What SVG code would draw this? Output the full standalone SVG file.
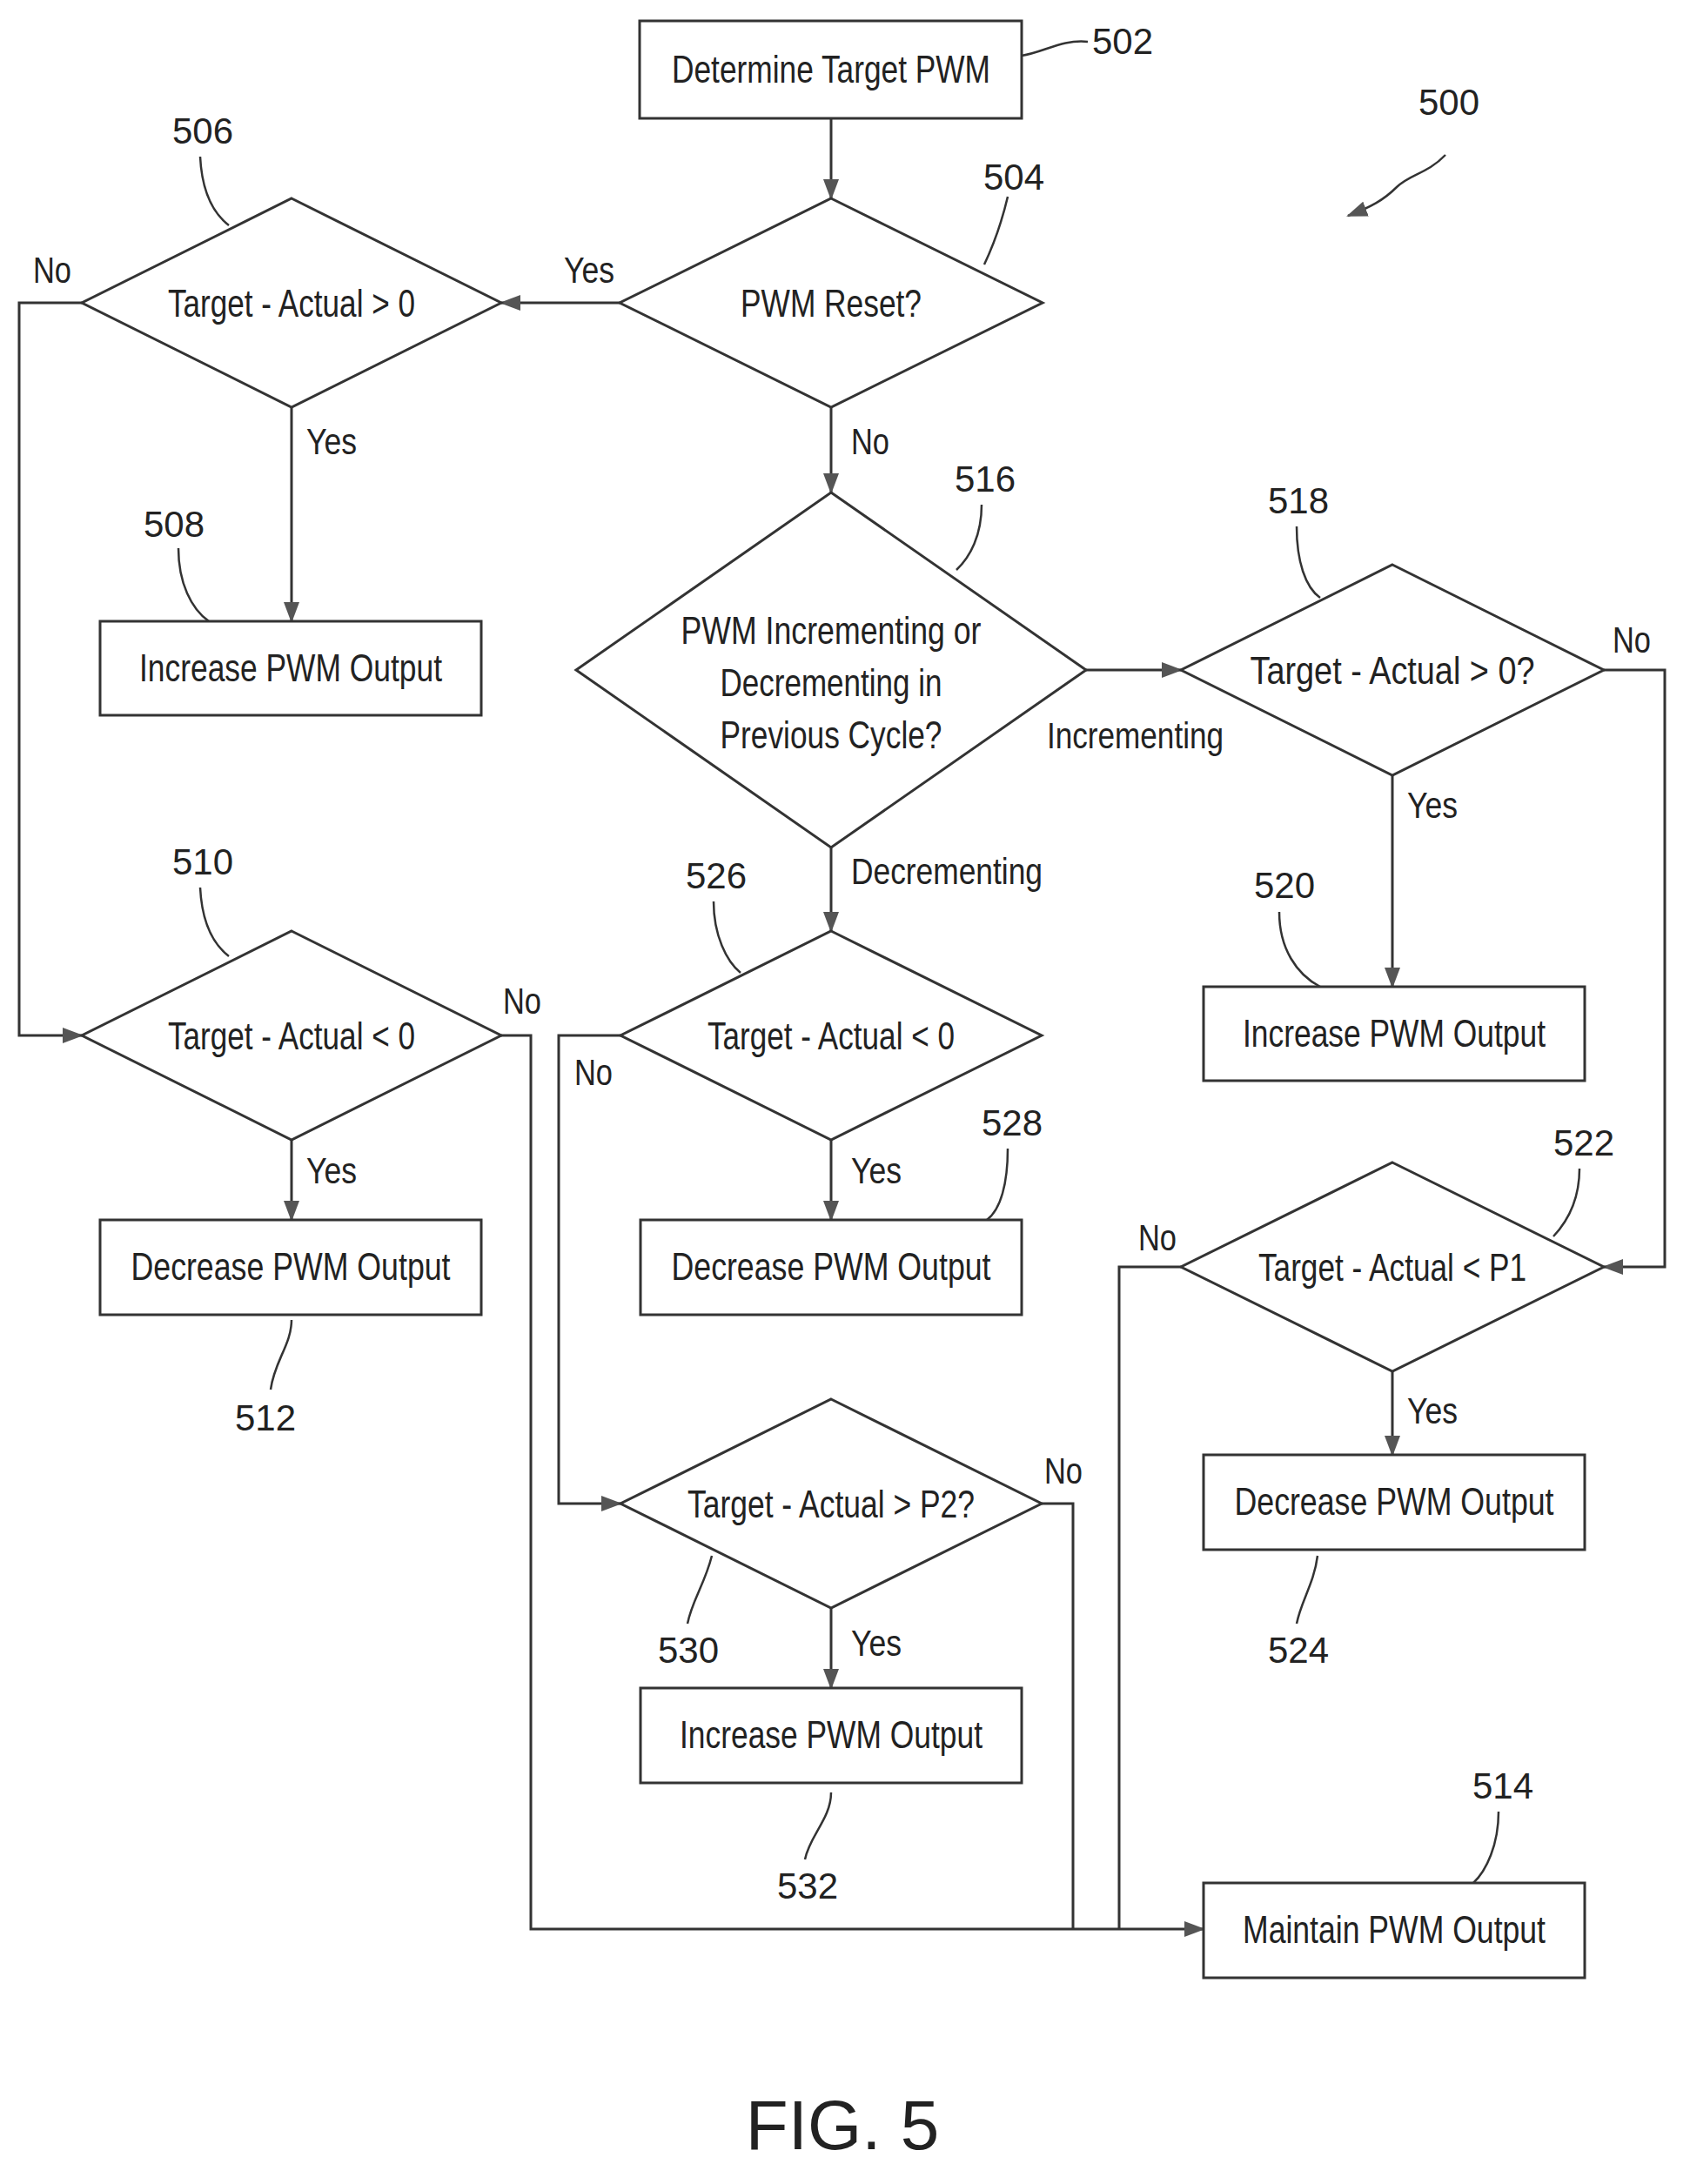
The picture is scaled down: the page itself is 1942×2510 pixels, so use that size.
<svg xmlns="http://www.w3.org/2000/svg" width="1942" height="2510" viewBox="0 0 1942 2510">
<defs>
<marker id="ah2" markerWidth="24" markerHeight="18" refX="22" refY="9" orient="auto" markerUnits="userSpaceOnUse" viewBox="0 0 24 18"><path d="M0,0 L24,9 L0,18 Z" fill="#555"/></marker>
</defs>
<style>
.n{fill:#fff;stroke:#333;stroke-width:3}
.t{font-family:"Liberation Sans Narrow","Liberation Sans",Arial,sans-serif;font-size:44px;fill:#222;text-anchor:middle}
.l{font-family:"Liberation Sans Narrow","Liberation Sans",Arial,sans-serif;font-size:42px;fill:#222}
.c{fill:none;stroke:#333;stroke-width:3}
.a{marker-end:url(#ah2)}
.ld{fill:none;stroke:#333;stroke-width:2.5}
</style>
<rect width="1942" height="2510" fill="#fff"/>
<g id="connectors">
<path class="c a" d="M955,136 V228"/>
<path class="c a" d="M712,348 H576"/>
<path class="c a" d="M94,348 H22 V1190 H94"/>
<path class="c a" d="M335,468 V714"/>
<path class="c a" d="M335,1310 V1402"/>
<path class="c a" d="M576,1190 H610 V2217 H1383"/>
<path class="c a" d="M955,468 V566"/>
<path class="c a" d="M1248,770 H1357"/>
<path class="c a" d="M955,974 V1070"/>
<path class="c a" d="M1843,770 H1913 V1456 H1843"/>
<path class="c a" d="M1600,891 V1134"/>
<path class="c a" d="M1600,1576 V1672"/>
<path class="c" d="M1357,1456 H1286 V2217"/>
<path class="c a" d="M713,1190 H642 V1728 H713"/>
<path class="c a" d="M955,1310 V1402"/>
<path class="c a" d="M955,1848 V1940"/>
<path class="c" d="M1197,1728 H1233 V2217"/>
<text class="l" x="648" y="325" textLength="58" lengthAdjust="spacingAndGlyphs">Yes</text>
<text class="l" x="38" y="325" textLength="44" lengthAdjust="spacingAndGlyphs">No</text>
<text class="l" x="352" y="522" textLength="58" lengthAdjust="spacingAndGlyphs">Yes</text>
<text class="l" x="352" y="1360" textLength="58" lengthAdjust="spacingAndGlyphs">Yes</text>
<text class="l" x="578" y="1165" textLength="44" lengthAdjust="spacingAndGlyphs">No</text>
<text class="l" x="978" y="522" textLength="44" lengthAdjust="spacingAndGlyphs">No</text>
<text class="l" x="1203" y="860" textLength="203" lengthAdjust="spacingAndGlyphs">Incrementing</text>
<text class="l" x="978" y="1016" textLength="220" lengthAdjust="spacingAndGlyphs">Decrementing</text>
<text class="l" x="1853" y="750" textLength="44" lengthAdjust="spacingAndGlyphs">No</text>
<text class="l" x="1617" y="940" textLength="58" lengthAdjust="spacingAndGlyphs">Yes</text>
<text class="l" x="1617" y="1636" textLength="58" lengthAdjust="spacingAndGlyphs">Yes</text>
<text class="l" x="1308" y="1437" textLength="44" lengthAdjust="spacingAndGlyphs">No</text>
<text class="l" x="660" y="1247" textLength="44" lengthAdjust="spacingAndGlyphs">No</text>
<text class="l" x="978" y="1360" textLength="58" lengthAdjust="spacingAndGlyphs">Yes</text>
<text class="l" x="978" y="1903" textLength="58" lengthAdjust="spacingAndGlyphs">Yes</text>
<text class="l" x="1200" y="1705" textLength="44" lengthAdjust="spacingAndGlyphs">No</text>
</g>
<g id="n502"><rect class="n" x="735" y="24" width="439" height="112"/><text class="t" x="955" y="95" textLength="366" lengthAdjust="spacingAndGlyphs">Determine Target PWM</text></g>
<g id="n504"><path class="n" d="M955,228 L1198,348 L955,468 L712,348 Z"/><text class="t" x="955" y="364" textLength="208" lengthAdjust="spacingAndGlyphs">PWM Reset?</text></g>
<g id="n506"><path class="n" d="M335,228 L576,348 L335,468 L94,348 Z"/><text class="t" x="335" y="364" textLength="284" lengthAdjust="spacingAndGlyphs">Target - Actual &gt; 0</text></g>
<g id="n508"><rect class="n" x="115" y="714" width="438" height="108"/><text class="t" x="334" y="783" textLength="348" lengthAdjust="spacingAndGlyphs">Increase PWM Output</text></g>
<g id="n510"><path class="n" d="M335,1070 L576,1190 L335,1310 L94,1190 Z"/><text class="t" x="335" y="1206" textLength="284" lengthAdjust="spacingAndGlyphs">Target - Actual &lt; 0</text></g>
<g id="n512"><rect class="n" x="115" y="1402" width="438" height="109"/><text class="t" x="334" y="1471" textLength="367" lengthAdjust="spacingAndGlyphs">Decrease PWM Output</text></g>
<g id="n516"><path class="n" d="M955,566 L1248,770 L955,974 L662,770 Z"/><text class="t" x="955" y="740" textLength="345" lengthAdjust="spacingAndGlyphs">PWM Incrementing or</text><text class="t" x="955" y="800" textLength="255" lengthAdjust="spacingAndGlyphs">Decrementing in</text><text class="t" x="955" y="860" textLength="255" lengthAdjust="spacingAndGlyphs">Previous Cycle?</text></g>
<g id="n518"><path class="n" d="M1600,649 L1843,770 L1600,891 L1357,770 Z"/><text class="t" x="1600" y="786" textLength="327" lengthAdjust="spacingAndGlyphs">Target - Actual &gt; 0?</text></g>
<g id="n520"><rect class="n" x="1383" y="1134" width="438" height="108"/><text class="t" x="1602" y="1203" textLength="348" lengthAdjust="spacingAndGlyphs">Increase PWM Output</text></g>
<g id="n522"><path class="n" d="M1600,1336 L1843,1456 L1600,1576 L1357,1456 Z"/><text class="t" x="1600" y="1472" textLength="308" lengthAdjust="spacingAndGlyphs">Target - Actual &lt; P1</text></g>
<g id="n524"><rect class="n" x="1383" y="1672" width="438" height="109"/><text class="t" x="1602" y="1741" textLength="367" lengthAdjust="spacingAndGlyphs">Decrease PWM Output</text></g>
<g id="n526"><path class="n" d="M955,1070 L1197,1190 L955,1310 L713,1190 Z"/><text class="t" x="955" y="1206" textLength="284" lengthAdjust="spacingAndGlyphs">Target - Actual &lt; 0</text></g>
<g id="n528"><rect class="n" x="736" y="1402" width="438" height="109"/><text class="t" x="955" y="1471" textLength="367" lengthAdjust="spacingAndGlyphs">Decrease PWM Output</text></g>
<g id="n530"><path class="n" d="M955,1608 L1197,1728 L955,1848 L713,1728 Z"/><text class="t" x="955" y="1744" textLength="330" lengthAdjust="spacingAndGlyphs">Target - Actual &gt; P2?</text></g>
<g id="n532"><rect class="n" x="736" y="1940" width="438" height="109"/><text class="t" x="955" y="2009" textLength="348" lengthAdjust="spacingAndGlyphs">Increase PWM Output</text></g>
<g id="n514"><rect class="n" x="1383" y="2164" width="438" height="109"/><text class="t" x="1602" y="2233" textLength="348" lengthAdjust="spacingAndGlyphs">Maintain PWM Output</text></g>
<g id="refs">
<text class="l" x="1255" y="62">502</text><path class="ld" d="M1174,64 C1200,60 1220,45 1250,48"/>
<text class="l" x="1130" y="218">504</text><path class="ld" d="M1158,226 C1150,260 1140,285 1131,304"/>
<text class="l" x="1630" y="132">500</text><path class="ld a" d="M1661,178 C1640,200 1620,200 1605,215 C1590,230 1575,238 1549,248"/>
<text class="l" x="198" y="165">506</text><path class="ld" d="M230,180 C232,220 245,245 263,259"/>
<text class="l" x="165" y="617">508</text><path class="ld" d="M205,630 C205,670 220,700 240,714"/>
<text class="l" x="198" y="1005">510</text><path class="ld" d="M230,1020 C232,1060 245,1085 263,1099"/>
<text class="l" x="270" y="1644">512</text><path class="ld" d="M335,1517 C335,1545 315,1565 311,1597"/>
<text class="l" x="1097" y="565">516</text><path class="ld" d="M1128,580 C1128,615 1115,640 1099,655"/>
<text class="l" x="1457" y="590">518</text><path class="ld" d="M1490,605 C1490,645 1500,675 1517,687"/>
<text class="l" x="1441" y="1032">520</text><path class="ld" d="M1470,1048 C1470,1090 1490,1120 1517,1134"/>
<text class="l" x="1785" y="1328">522</text><path class="ld" d="M1815,1343 C1815,1380 1800,1405 1785,1421"/>
<text class="l" x="1457" y="1911">524</text><path class="ld" d="M1514,1788 C1510,1820 1495,1840 1490,1866"/>
<text class="l" x="788" y="1021">526</text><path class="ld" d="M820,1036 C820,1075 835,1105 851,1118"/>
<text class="l" x="1128" y="1305">528</text><path class="ld" d="M1158,1320 C1158,1360 1150,1390 1134,1402"/>
<text class="l" x="756" y="1911">530</text><path class="ld" d="M818,1788 C810,1820 795,1840 790,1866"/>
<text class="l" x="893" y="2182">532</text><path class="ld" d="M955,2060 C955,2090 930,2110 925,2137"/>
<text class="l" x="1692" y="2067">514</text><path class="ld" d="M1722,2082 C1722,2120 1708,2150 1693,2164"/>
</g>
<text x="968" y="2470" font-family="Liberation Sans, Arial, sans-serif" font-size="80" fill="#222" text-anchor="middle">FIG. 5</text>
</svg>
